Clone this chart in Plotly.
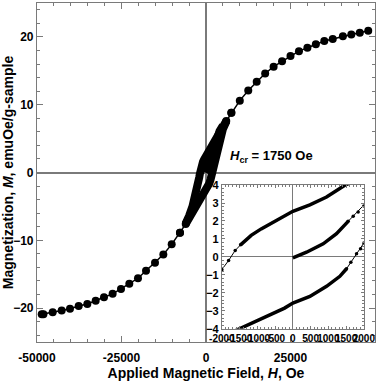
import plotly.graph_objects as go

# outer branch, big markers
H_out_pos = [7500, 10000, 12500, 15000, 17500, 20000, 22500, 25000, 27500, 30000,
             32500, 35000, 37500, 40500, 43000, 45500, 48000]
M_out_pos = [8.8, 10.6, 12.1, 13.4, 14.6, 15.6, 16.4, 17.2, 17.9, 18.4,
             18.9, 19.4, 19.7, 20.1, 20.35, 20.6, 20.9]
H_out_neg = [-7700, -10150, -12620, -15090, -17750, -20120, -22690, -25150, -27620,
             -30180, -32640, -35110, -37670, -40240, -42700, -45360, -48100, -48600]
M_out_neg = [-8.9, -10.6, -12.1, -13.3, -14.5, -15.6, -16.4, -17.2, -17.9,
             -18.4, -18.9, -19.4, -19.7, -20.1, -20.35, -20.6, -20.9, -20.9]

# low-field loop, dense and sparse parts
up_H_dense = [-1473, -1175, -893, -611, -330, 0, 479, 949, 1465, 2000]
up_M_dense = [0.67, 1.2, 1.56, 1.88, 2.22, 2.54, 2.9, 3.33, 3.99, 4.45]
up_H_sparse = [-2300, -2000, -1811, -1625, -1473]
up_M_sparse = [-1.5, -0.71, -0.2, 0.36, 0.67]

lo_H_dense = [-2000, -1501, -1175, -704, -234, 0, 479, 949, 1324, 1512]
lo_M_dense = [-4.45, -4.0, -3.69, -3.28, -2.85, -2.57, -2.2, -1.64, -1.08, -0.66]
lo_H_sparse = [1512, 1634, 1794, 1907, 2000, 2300]
lo_M_sparse = [-0.66, -0.3, 0.17, 0.45, 0.77, 1.5]

vi_H_dense = [0, 385, 854, 1230, 1558]
vi_M_dense = [-0.05, 0.26, 0.73, 1.29, 1.98]
vi_H_sparse = [1558, 1700, 1840, 2000, 2300]
vi_M_sparse = [1.98, 2.26, 2.5, 2.83, 3.5]

# loop continuation between 2000 and 7500 Oe (main plot blob)
up_H_hi = [7500, 6000, 5000, 4000, 3000, 2000]
up_M_hi = [8.8, 7.6, 6.8, 6.0, 5.3, 4.45]
up_H_lo = [-2000, -2500, -3000, -3500, -4000, -5000, -6000, -7700]
up_M_lo = [-0.71, -2.0, -3.1, -4.1, -5.0, -6.4, -7.5, -8.9]
lo_H_lo = [-7700, -6000, -5000, -4000, -3000, -2000]
lo_M_lo = [-8.9, -7.6, -6.8, -6.0, -5.3, -4.45]
lo_H_hi = [2000, 2500, 3000, 3500, 4000, 5000, 6000, 7500]
lo_M_hi = [0.77, 2.0, 3.1, 4.1, 5.0, 6.4, 7.5, 8.8]
vi_H_hi = [2000, 3000, 4000, 5000]
vi_M_hi = [2.83, 4.9, 6.1, 6.9]

x_ticks = [-50000, -25000, 0, 25000, 50000]
y_ticks = [-20, -10, 0, 10, 20]
inset_x_ticks = [-2000, -1500, -1000, -500, 0, 500, 1000, 1500, 2000]
inset_y_ticks = [-4, -3, -2, -1, 0, 1, 2, 3, 4]

FONT = "Liberation Sans"
GRAY = "#7a7a7a"

fig = go.Figure()

# main plot: central blob drawn as thick lines (dense points), up to ~6000 Oe
blob = dict(mode="lines", line=dict(color="black", width=8), showlegend=False,
            xaxis="x", yaxis="y", hoverinfo="skip")
fig.add_trace(go.Scatter(x=up_H_hi[1:] + up_H_dense[::-1] + up_H_sparse[::-1] + up_H_lo[:-1],
                         y=up_M_hi[1:] + up_M_dense[::-1] + up_M_sparse[::-1] + up_M_lo[:-1], **blob))
fig.add_trace(go.Scatter(x=lo_H_lo[1:] + lo_H_dense + lo_H_sparse + lo_H_hi[:-1],
                         y=lo_M_lo[1:] + lo_M_dense + lo_M_sparse + lo_M_hi[:-1], **blob))
fig.add_trace(go.Scatter(x=vi_H_dense + vi_H_sparse + vi_H_hi,
                         y=vi_M_dense + vi_M_sparse + vi_M_hi, **blob))

outer = dict(mode="lines+markers", line=dict(color="black", width=1.5),
             marker=dict(color="black", size=8), showlegend=False, xaxis="x", yaxis="y")
fig.add_trace(go.Scatter(x=up_H_hi[:2][::-1] + H_out_pos, y=up_M_hi[:2][::-1] + M_out_pos, **outer))
fig.add_trace(go.Scatter(x=lo_H_lo[:2][::-1] + H_out_neg, y=lo_M_lo[:2][::-1] + M_out_neg, **outer))

# inset
dense = dict(mode="lines", line=dict(color="black", width=3.5), showlegend=False,
             xaxis="x2", yaxis="y2")
sparse = dict(mode="lines+markers", line=dict(color="black", width=1),
              marker=dict(color="black", size=3.5), showlegend=False, xaxis="x2", yaxis="y2")
fig.add_trace(go.Scatter(x=up_H_sparse, y=up_M_sparse, **sparse))
fig.add_trace(go.Scatter(x=up_H_dense, y=up_M_dense, **dense))
fig.add_trace(go.Scatter(x=lo_H_sparse, y=lo_M_sparse, **sparse))
fig.add_trace(go.Scatter(x=lo_H_dense, y=lo_M_dense, **dense))
fig.add_trace(go.Scatter(x=vi_H_sparse, y=vi_M_sparse, **sparse))
fig.add_trace(go.Scatter(x=vi_H_dense, y=vi_M_dense, **dense))

tickfont = dict(family=FONT, size=12, color="black", weight="bold")
fig.update_layout(
    width=392, height=381,
    margin=dict(l=37, r=17, t=3, b=39),
    paper_bgcolor="white", plot_bgcolor="white",
    font=dict(family=FONT, color="black"),
    xaxis=dict(range=[-50000, 50000], tickvals=x_ticks, ticktext=[str(v) for v in x_ticks],
               ticks="inside", ticklen=6, tickcolor=GRAY, mirror="allticks",
               showline=True, linecolor=GRAY, linewidth=1.2, showgrid=False,
               zeroline=True, zerolinecolor=GRAY, zerolinewidth=1.5, automargin=False,
               minor=dict(dtick=5000, ticks="inside", ticklen=3, tickcolor=GRAY),
               tickfont=tickfont, tickangle=0, ticklabelstandoff=4,
               title=dict(text="Applied Magnetic Field, <i>H</i>, Oe", standoff=6,
                          font=dict(family=FONT, size=14, weight="bold"))),
    yaxis=dict(range=[-25, 25], tickvals=y_ticks,
               ticks="inside", ticklen=6, tickcolor=GRAY, mirror="allticks",
               showline=True, linecolor=GRAY, linewidth=1.2, showgrid=False,
               zeroline=True, zerolinecolor=GRAY, zerolinewidth=1.5, automargin=False,
               minor=dict(dtick=2, ticks="inside", ticklen=3, tickcolor=GRAY),
               tickfont=tickfont,
               title=dict(text="Magnetization, <i>M</i>, emuOe/g-sample", standoff=2,
                          font=dict(family=FONT, size=14, weight="bold"))),
    xaxis2=dict(domain=[0.547, 0.967], anchor="y2", range=[-2000, 2000],
                tickvals=inset_x_ticks, ticktext=[str(v) for v in inset_x_ticks], tickangle=0,
                ticks="inside", ticklen=3, tickcolor=GRAY, mirror="allticks",
                showline=True, linecolor=GRAY, linewidth=1, showgrid=False,
                zeroline=True, zerolinecolor=GRAY, zerolinewidth=1, automargin=False,
                minor=dict(dtick=100, ticks="inside", ticklen=2, tickcolor=GRAY),
                tickfont=dict(family=FONT, size=10, color="black", weight="bold")),
    yaxis2=dict(domain=[0.039, 0.463], anchor="x2", range=[-4, 4], tickvals=inset_y_ticks,
                ticks="inside", ticklen=3, tickcolor=GRAY, mirror="allticks",
                showline=True, linecolor=GRAY, linewidth=1, showgrid=False,
                zeroline=True, zerolinecolor=GRAY, zerolinewidth=1, automargin=False,
                minor=dict(dtick=0.2, ticks="inside", ticklen=2, tickcolor=GRAY),
                tickfont=dict(family=FONT, size=11, color="black", weight="bold")),
    shapes=[dict(type="rect", xref="x2 domain", yref="y2 domain", x0=0, x1=1, y0=0, y1=1,
                 fillcolor="white", line=dict(width=0), layer="below")],
    annotations=[dict(x=6500, y=2.3, xref="x", yref="y", xanchor="left", yanchor="middle",
                      showarrow=False,
                      text="<i>H</i><sub>cr</sub> = 1750 Oe",
                      font=dict(family=FONT, size=13, weight="bold"))],
)

# drop the default page margin so the figure sits at the window's corner
fig.write_html("out.html", config={"displayModeBar": False},
               post_script="document.body.style.margin='0px';")
